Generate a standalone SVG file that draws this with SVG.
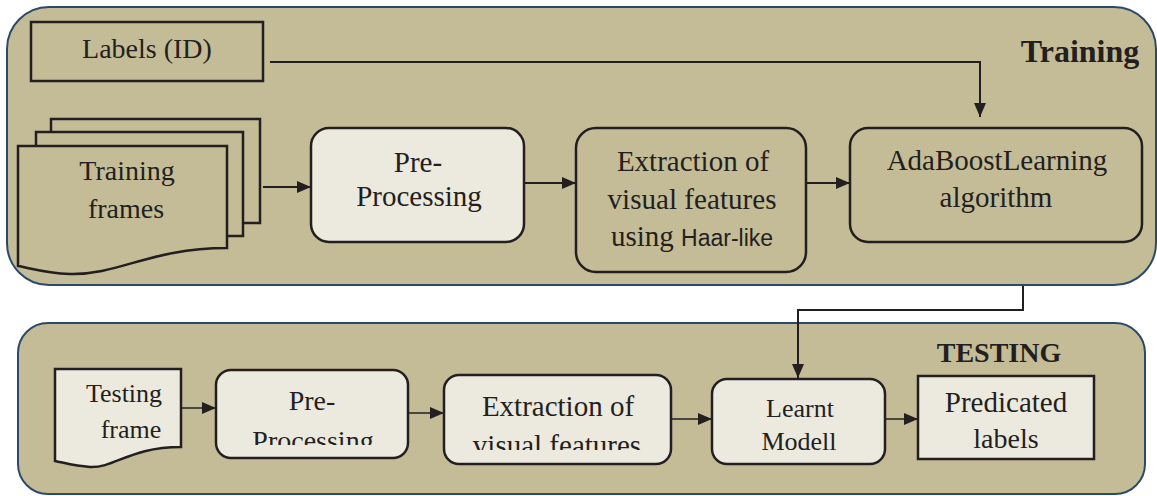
<svg xmlns="http://www.w3.org/2000/svg" width="1157" height="496" viewBox="0 0 1157 496">
<defs>
<style>
.panel{fill:#c4bc97;stroke:#2b4a6b;stroke-width:2}
.tan{fill:#c4bc97;stroke:#231f20;stroke-width:2.5}
.light{fill:#ece9df;stroke:#231f20;stroke-width:2.5}
.t{font-family:"Liberation Serif","Times New Roman","DejaVu Serif",serif;fill:#231f20;text-anchor:middle}
.s{font-family:"Liberation Sans",Arial,sans-serif}
.b{font-weight:bold}
.c{fill:none;stroke:#231f20;stroke-width:2}
.c2{fill:none;stroke:#231f20;stroke-width:1.5}
</style>
<marker id="ah" viewBox="0 0 14 12" refX="14" refY="6" markerWidth="14" markerHeight="12" markerUnits="userSpaceOnUse" orient="auto">
<path d="M0,0 L14,6 L0,12 z" fill="#231f20"/>
</marker>
<clipPath id="clipPre2"><rect x="216" y="370" width="192" height="75"/></clipPath>
<clipPath id="clipExt2"><rect x="444" y="375" width="227" height="75"/></clipPath>
</defs>

<g id="panel-training">
<rect class="panel" x="7" y="7" width="1149" height="278" rx="42"/>
<text class="t b" x="1080" y="62" font-size="32">Training</text>
</g>
<g id="panel-testing">
<rect class="panel" x="18" y="323" width="1127" height="171" rx="30"/>
<text class="t b" x="999" y="362" font-size="28">TESTING</text>
</g>

<g id="connectors">
<polyline class="c" points="270,62 980,62 980,117" marker-end="url(#ah)"/>
<line class="c" x1="263" y1="187" x2="311" y2="187" marker-end="url(#ah)"/>
<line class="c" x1="524" y1="183" x2="576" y2="183" marker-end="url(#ah)"/>
<line class="c" x1="806" y1="183" x2="850" y2="183" marker-end="url(#ah)"/>
<polyline class="c" points="1023,286 1023,310 798,310 798,378" marker-end="url(#ah)"/>
<line class="c2" x1="181" y1="408" x2="216" y2="408" marker-end="url(#ah)"/>
<line class="c2" x1="408" y1="413" x2="444" y2="413" marker-end="url(#ah)"/>
<line class="c2" x1="671" y1="419" x2="712" y2="419" marker-end="url(#ah)"/>
<line class="c2" x1="885" y1="419" x2="918" y2="419" marker-end="url(#ah)"/>
</g>

<g id="labels-id">
<rect x="31" y="22" width="232" height="59" fill="#c4bc97" stroke="#231f20" stroke-width="2.5"/>
<text class="t" x="147" y="58" font-size="28">Labels (ID)</text>
</g>

<g id="training-frames">
<rect class="tan" x="51" y="119" width="209" height="104"/>
<rect class="tan" x="36" y="132" width="207" height="104"/>
<path class="tan" d="M18,146 H227 V248 C150,248 120,275 70,274 C45,273 30,268 18,266 Z"/>
<text class="t" x="127" y="180" font-size="28">Training</text>
<text class="t" x="126" y="218" font-size="28">frames</text>
</g>

<g id="pre-processing">
<rect class="light" x="311" y="128" width="213" height="114" rx="18"/>
<text class="t" x="418" y="172" font-size="29">Pre-</text>
<text class="t" x="419" y="206" font-size="29">Processing</text>
</g>

<g id="extraction">
<rect class="tan" x="576" y="128" width="230" height="144" rx="20"/>
<text class="t" x="693" y="171" font-size="29">Extraction of</text>
<text class="t" x="692" y="209" font-size="29" textLength="169" lengthAdjust="spacingAndGlyphs">visual features</text>
<text class="t" x="692" y="246" font-size="29"><tspan>using </tspan><tspan class="s" font-size="23">Haar-like</tspan></text>
</g>

<g id="adaboost">
<rect class="tan" x="850" y="128" width="292" height="114" rx="18"/>
<text class="t" x="997" y="170" font-size="29">AdaBoostLearning</text>
<text class="t" x="996" y="207" font-size="29">algorithm</text>
</g>

<g id="testing-frame">
<path class="light" d="M55,369 H181 V447 C130,447 115,468 90,467 C75,466 65,463 55,461 Z"/>
<text class="t" x="124" y="402" font-size="26">Testing</text>
<text class="t" x="131" y="438" font-size="26">frame</text>
</g>

<g id="pre-processing-2">
<rect class="light" x="216" y="370" width="192" height="88" rx="15"/>
<g clip-path="url(#clipPre2)">
<text class="t" x="312" y="410" font-size="28">Pre-</text>
<text class="t" x="313" y="450" font-size="28">Processing</text>
</g>
</g>

<g id="extraction-2">
<rect class="light" x="444" y="375" width="227" height="89" rx="15"/>
<g clip-path="url(#clipExt2)">
<text class="t" x="558" y="416" font-size="29">Extraction of</text>
<text class="t" x="557" y="455" font-size="29">visual features</text>
</g>
</g>

<g id="learnt-model">
<rect class="light" x="712" y="379" width="173" height="85" rx="15"/>
<text class="t" x="800" y="417" font-size="26">Learnt</text>
<text class="t" x="799" y="450" font-size="26">Modell</text>
</g>

<g id="predicated-labels">
<rect class="light" x="918" y="376" width="176" height="83"/>
<text class="t" x="1006" y="412" font-size="29">Predicated</text>
<text class="t" x="1006" y="448" font-size="28">labels</text>
</g>
</svg>
